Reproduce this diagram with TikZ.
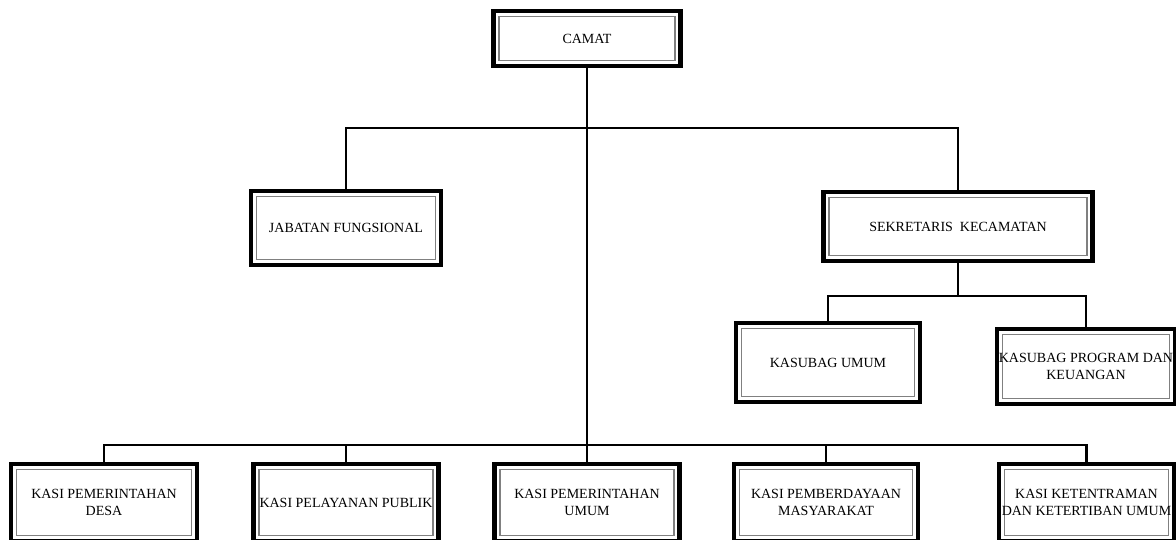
\documentclass[tikz,border=0pt]{standalone}
\usepackage{fontspec}
\setmainfont{Liberation Serif}
\usepackage{tikz}

\begin{document}
\begin{tikzpicture}[x=1pt, y=-1pt, line width=2.2pt,
        unitbox/.style={draw=black, line width=4.5pt, fill=white, align=center, inner sep=1pt,
            font=\fontsize{14}{17}\selectfont,
            path picture={\draw[gray, line width=1.5pt]
                ([shift={(5.5pt,5.5pt)}]path picture bounding box.south west) rectangle
                ([shift={(-5.5pt,-5.5pt)}]path picture bounding box.north east);}}]
        \useasboundingbox (0,0) rectangle (1176,540);
        \draw (587,38.5)    node[unitbox, minimum width=187pt, minimum height=55pt] (camat) {CAMAT};
        \draw (346,228)     node[unitbox, minimum width=190pt, minimum height=74pt] (jabfung) {JABATAN FUNGSIONAL};
        \draw (958,226.5)   node[unitbox, minimum width=269pt, minimum height=69pt] (sekcam) {SEKRETARIS\ \ KECAMATAN};
        \draw (828,362.5)   node[unitbox, minimum width=184pt, minimum height=79pt] (kasubagumum) {KASUBAG UMUM};
        \draw (1086,366.5)  node[unitbox, minimum width=178pt, minimum height=75pt] (kasubagprog) {KASUBAG PROGRAM DAN\\KEUANGAN};
        \draw (104,502.5)   node[unitbox, minimum width=186pt, minimum height=77pt] (kasidesa) {KASI PEMERINTAHAN\\DESA};
        \draw (346,502.5)   node[unitbox, minimum width=185pt, minimum height=77pt] (kasipublik) {KASI PELAYANAN PUBLIK};
        \draw (587,502.5)   node[unitbox, minimum width=185pt, minimum height=77pt] (kasiumum) {KASI PEMERINTAHAN\\UMUM};
        \draw (826,502.5)   node[unitbox, minimum width=184pt, minimum height=77pt] (kasimasy) {KASI PEMBERDAYAAN\\MASYARAKAT};
        \draw (1086.5,502.5) node[unitbox, minimum width=175pt, minimum height=77pt] (kasitrantib) {KASI KETENTRAMAN\\DAN KETERTIBAN UMUM};
        \coordinate (topbus) at (587,128);
        \coordinate (sekbus) at (958,296);
        \coordinate (lowbus) at (587,445);
        \draw (camat) -- (kasiumum)
              (jabfung) |- (topbus) -| (sekcam)
              (sekcam) -- (sekbus)
              (kasubagumum) |- (sekbus) -| (kasubagprog)
              (kasidesa) |- (lowbus) -| (kasitrantib)
              (kasipublik) |- (lowbus)
              (kasimasy) |- (lowbus);
    \end{tikzpicture}
\end{document}
